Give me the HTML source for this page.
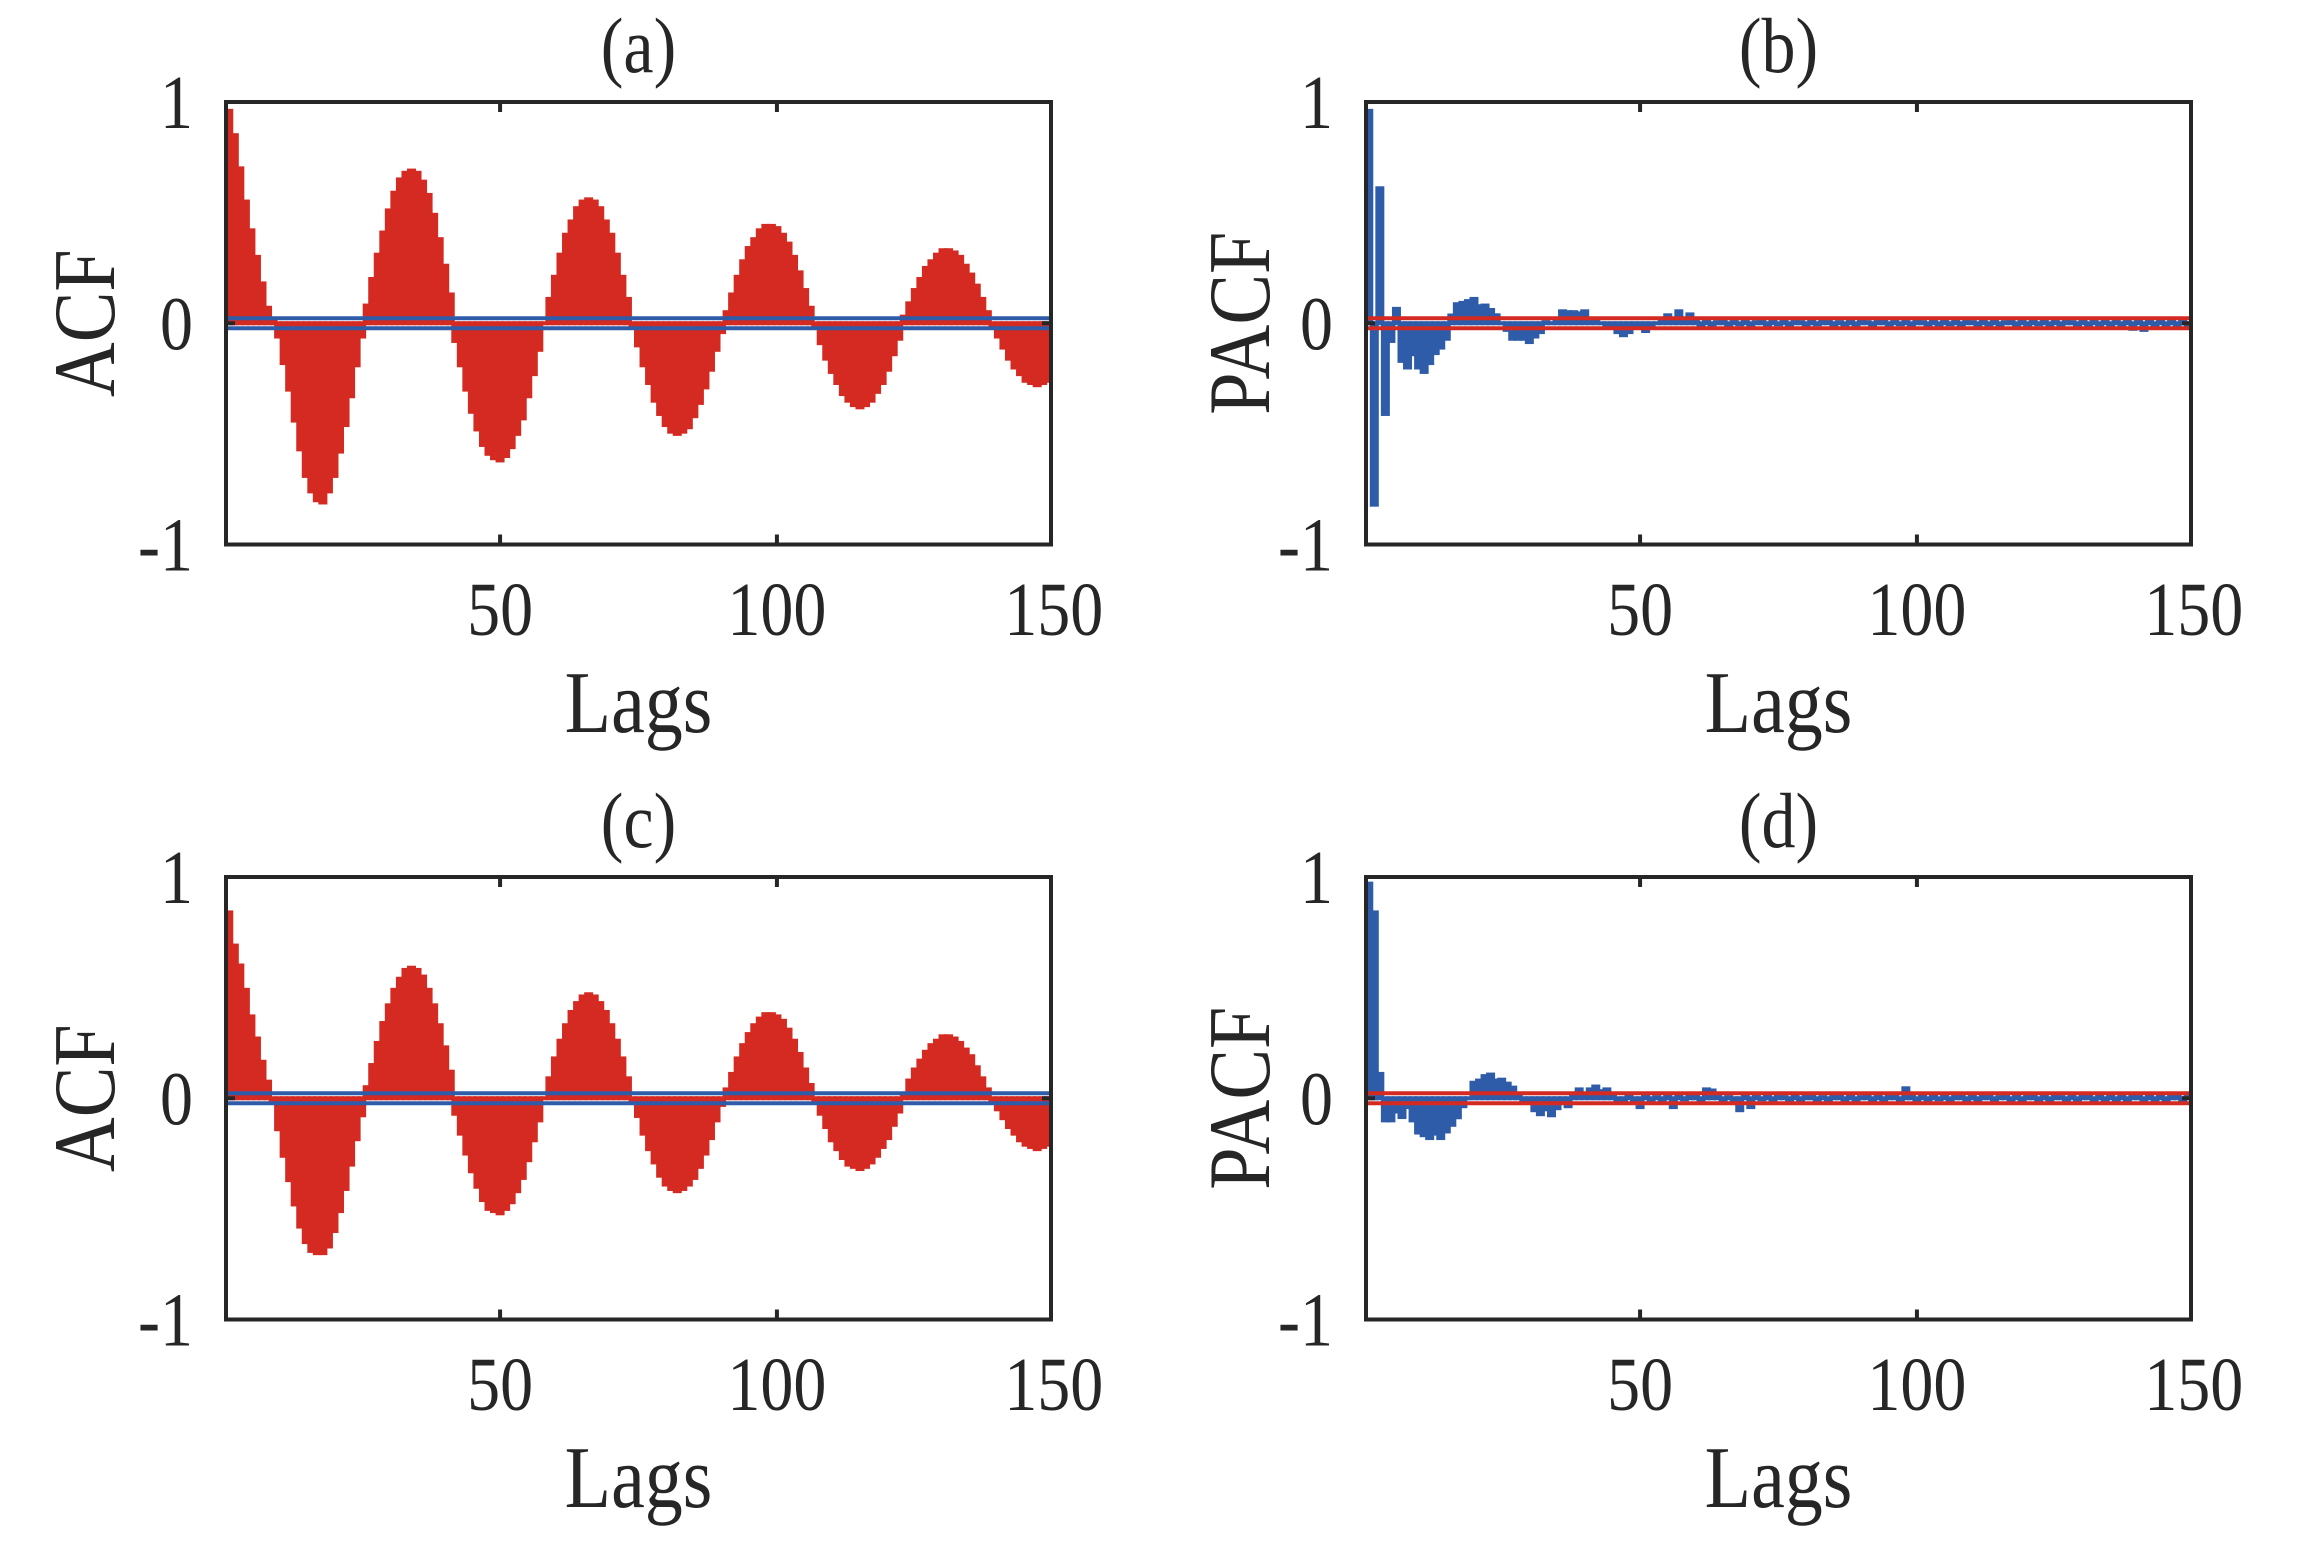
<!DOCTYPE html>
<html>
<head>
<meta charset="utf-8">
<style>
html,body{margin:0;padding:0;background:#fff;}
svg{display:block;}
text{font-family:"Liberation Serif","Times New Roman",serif;fill:#262626;}
</style>
</head>
<body>
<svg id="fig" width="2310" height="1557" viewBox="0 0 2310 1557" xmlns="http://www.w3.org/2000/svg">
<rect x="0" y="0" width="2310" height="1557" fill="#ffffff"/>
</svg>
<script>
// ---- data ----
const acfA = [
.96,.85,.70,.55,.42,.30,.18,.07,.01,
-.06,-.18,-.30,-.44,-.57,-.69,-.76,-.80,-.81,-.76,-.69,-.58,-.46,-.33,-.19,-.06,
.08,.20,.31,.41,.51,.59,.65,.68,.69,.68,.64,.58,.49,.38,.26,.13,
-.08,-.19,-.30,-.40,-.48,-.55,-.59,-.61,-.62,-.60,-.56,-.50,-.43,-.33,-.23,-.12,
.00,.11,.21,.31,.40,.46,.52,.55,.56,.55,.52,.46,.40,.31,.21,.11,
-.01,-.10,-.19,-.27,-.35,-.41,-.46,-.49,-.50,-.49,-.47,-.42,-.36,-.29,-.21,-.12,-.04,
.05,.13,.21,.28,.34,.38,.42,.44,.44,.43,.40,.36,.30,.23,.15,.07,
-.02,-.09,-.16,-.22,-.27,-.32,-.35,-.37,-.38,-.37,-.35,-.31,-.27,-.21,-.14,-.07,
.03,.09,.15,.20,.25,.28,.31,.33,.33,.32,.30,.26,.22,.17,.11,.05,
-.01,-.06,-.11,-.16,-.20,-.23,-.26,-.27,-.28,-.27,-.26,-.24
];
const pacfB = [
.96,-.82,.61,-.41,-.08,.065,-.17,-.20,-.14,-.20,-.22,-.18,-.135,-.11,-.07,
.035,.086,.092,.10,.11,.077,.08,.06,.036,.00,-.03,-.07,-.07,-.07,-.085,
-.06,-.04,.005,.00,.01,.054,.05,.05,.045,.054,.01,.01,.00,-.01,-.01,
-.04,-.054,-.04,-.01,-.01,-.035,-.01,.00,.02,.036,.01,.054,.01,.04,.01,
-.01,.01,-.015,.005,.01,-.01,.015,-.005,.01,-.01,.005,.012,-.01,.01,-.005,
.015,-.01,.01,.005,-.012,.01,-.005,.01,.015,-.01,.005,-.01,.01,-.015,.01,
.005,-.01,.012,.02,-.01,.01,-.005,.015,-.01,.01,.005,-.012,.01,-.01,.015,
-.005,.01,-.01,.012,.005,-.01,.01,-.015,.02,-.01,.005,.01,-.012,.015,-.01,
.01,-.005,.012,-.01,.02,-.015,.01,.005,-.01,.015,-.012,.01,-.02,.01,-.01,
.015,-.01,.02,-.025,.01,-.03,.015,-.01,.02,-.015,.01,-.02,.015,-.01,.01
];
const acfC = [
.84,.69,.60,.49,.37,.27,.165,.075,-.02,
-.14,-.26,-.37,-.48,-.58,-.65,-.69,-.70,-.70,-.67,-.60,-.51,-.41,-.30,-.185,-.077,
.05,.15,.25,.34,.42,.49,.54,.58,.59,.58,.55,.49,.42,.33,.23,.12,
-.07,-.16,-.25,-.33,-.40,-.46,-.50,-.51,-.52,-.50,-.47,-.42,-.36,-.28,-.19,-.10,
.00,.09,.18,.26,.33,.39,.43,.46,.47,.46,.43,.39,.33,.26,.18,.09,
-.01,-.08,-.16,-.23,-.29,-.35,-.39,-.41,-.42,-.41,-.39,-.36,-.31,-.25,-.18,-.10,-.03,
.04,.11,.18,.24,.29,.33,.36,.38,.38,.37,.35,.31,.26,.20,.13,.06,
-.01,-.07,-.13,-.19,-.23,-.27,-.30,-.31,-.32,-.31,-.29,-.26,-.22,-.18,-.12,-.06,
.02,.08,.13,.17,.21,.24,.26,.28,.28,.27,.25,.22,.19,.14,.09,.04,
-.01,-.05,-.09,-.13,-.16,-.19,-.21,-.22,-.23,-.22,-.21,-.20
];
const pacfD = [
.97,.84,.11,-.10,-.10,-.06,-.085,-.04,-.10,-.155,-.167,-.18,-.16,-.18,-.15,
-.12,-.086,-.036,.00,.07,.08,.10,.107,.08,.084,.066,.048,.01,-.01,-.01,
-.054,-.072,-.05,-.077,-.045,-.01,-.036,.01,.04,.01,.04,.053,.032,.04,.01,
-.01,-.02,.01,-.015,-.04,.01,-.01,.005,-.01,.01,-.04,.01,-.005,.01,.015,
-.01,.04,.035,.01,-.01,.005,-.01,-.054,.01,-.04,.01,-.005,.015,-.01,.01,
.005,-.01,.015,-.01,.01,.02,-.01,.005,-.015,.01,.01,-.02,.015,-.01,.005,
.01,-.015,.02,-.01,.01,.015,-.01,.045,.01,-.01,.015,-.01,.02,-.005,.01,
-.015,.01,.02,-.01,.01,-.02,.015,.01,-.01,.005,.015,-.01,.02,-.015,.01,
.01,-.01,.015,-.02,.01,.005,-.01,.02,-.015,.01,.02,-.01,.015,-.02,.01,
-.01,.02,-.015,.01,.015,-.01,.02,-.01,.015,-.02,.01,.015,-.01,.02,.01
];
const confBound = 0.0226;
const xTicks = [50, 100];
const xTickLabels = ["50", "100", "150"];
const xTickLabelValues = [50, 100, 150];
const yTickValues = [1, 0, -1];
const yTickLabels = ["1", "0", "-1"];
const titles = ["(a)", "(b)", "(c)", "(d)"];
const yLabels = ["ACF", "PACF", "ACF", "PACF"];

const RED = "#d42a22", BLUE = "#2f5ca9", INK = "#262626";
const NS = "http://www.w3.org/2000/svg";
const SY = 1.15;
const svg = document.getElementById("fig");

function mk(tag, attrs, parent) {
  const e = document.createElementNS(NS, tag);
  for (const k in attrs) e.setAttribute(k, attrs[k]);
  (parent || svg).appendChild(e);
  return e;
}
function txt(parent, x, y, str, size, anchor, rot) {
  const tr = "translate(" + x + " " + y + ")" + (rot ? " rotate(" + rot + ")" : "") + " scale(1 " + SY + ")";
  const t = mk("text", {x:0, y:0, "text-anchor":anchor, "font-size":size, transform:tr}, parent);
  t.textContent = str;
  return t;
}

const panels = [
  {id:"a", left:226, top:102, data:acfA, bar:RED, bound:BLUE, title:titles[0], ylab:yLabels[0], ylabX:114},
  {id:"b", left:1366, top:102, data:pacfB, bar:BLUE, bound:RED, title:titles[1], ylab:yLabels[1], ylabX:1269},
  {id:"c", left:226, top:877, data:acfC, bar:RED, bound:BLUE, title:titles[2], ylab:yLabels[2], ylabX:114},
  {id:"d", left:1366, top:877, data:pacfD, bar:BLUE, bound:RED, title:titles[3], ylab:yLabels[3], ylabX:1269}
];
const W = 825, H = 442.5, XMIN = 0.5, XMAX = 149.5;

panels.forEach(function(p) {
  const g = mk("g", {});
  
  
  const xs = function(v){ return p.left + (v - XMIN) / (XMAX - XMIN) * W; };
  const ys = function(v){ return p.top + (1 - v) / 2 * H; };

  const cp = mk("clipPath", {id:"clip-" + p.id}, g);
  mk("rect", {x:p.left, y:p.top, width:W, height:H}, cp);

  const bars = mk("g", {"clip-path":"url(#clip-" + p.id + ")"}, g);
  
  
  p.data.forEach(function(v, i) {
    const lag = i + 1;
    const cx = xs(lag);
    const y0 = ys(0), y1 = ys(v);
    const r = mk("rect", {x:cx - 4.5, y:Math.min(y0, y1) - 2, width:9, height:Math.abs(y1 - y0) + 4, fill:p.bar}, bars);
    
    
  });

  [confBound, -confBound].forEach(function(b, j) {
    const l = mk("line", {x1:p.left, x2:p.left + W, y1:ys(b), y2:ys(b), stroke:p.bound, "stroke-width":4}, g);
    
    
  });

  const fr = mk("rect", {x:p.left, y:p.top, width:W, height:H, fill:"none", stroke:INK, "stroke-width":4}, g);
  
  

  xTicks.forEach(function(t) {
    const x = xs(t);
    const t1 = mk("line", {x1:x, x2:x, y1:p.top, y2:p.top + 10, stroke:INK, "stroke-width":4}, g);
    
    
    const t2 = mk("line", {x1:x, x2:x, y1:p.top + H, y2:p.top + H - 10, stroke:INK, "stroke-width":4}, g);
    
    
  });
  [p.left, p.left + W].forEach(function(x, j) {
    const yt = mk("line", {x1:x, x2:j === 0 ? x + 9 : x - 9, y1:ys(0), y2:ys(0), stroke:INK, "stroke-width":4}, g);
    
    
  });

  xTickLabelValues.forEach(function(v, i) {
    const t = txt(g, xs(v), p.top + 533, xTickLabels[i], 66, "middle");
    
    
  });
  yTickValues.forEach(function(v, i) {
    const t = txt(g, p.left - 33, ys(v) + 26, yTickLabels[i], 66, "end");
    
    
  });

  const ti = txt(g, p.left + W / 2, p.top - 30, p.title, 68, "middle");
  
  

  const xl = txt(g, p.left + W / 2, p.top + 630, "Lags", 76, "middle");
  
  

  const cy = p.top + H / 2;
  const yl = txt(g, p.ylabX, cy, p.ylab, 76, "middle", -90);
  
  
});
</script>
</body>
</html>
